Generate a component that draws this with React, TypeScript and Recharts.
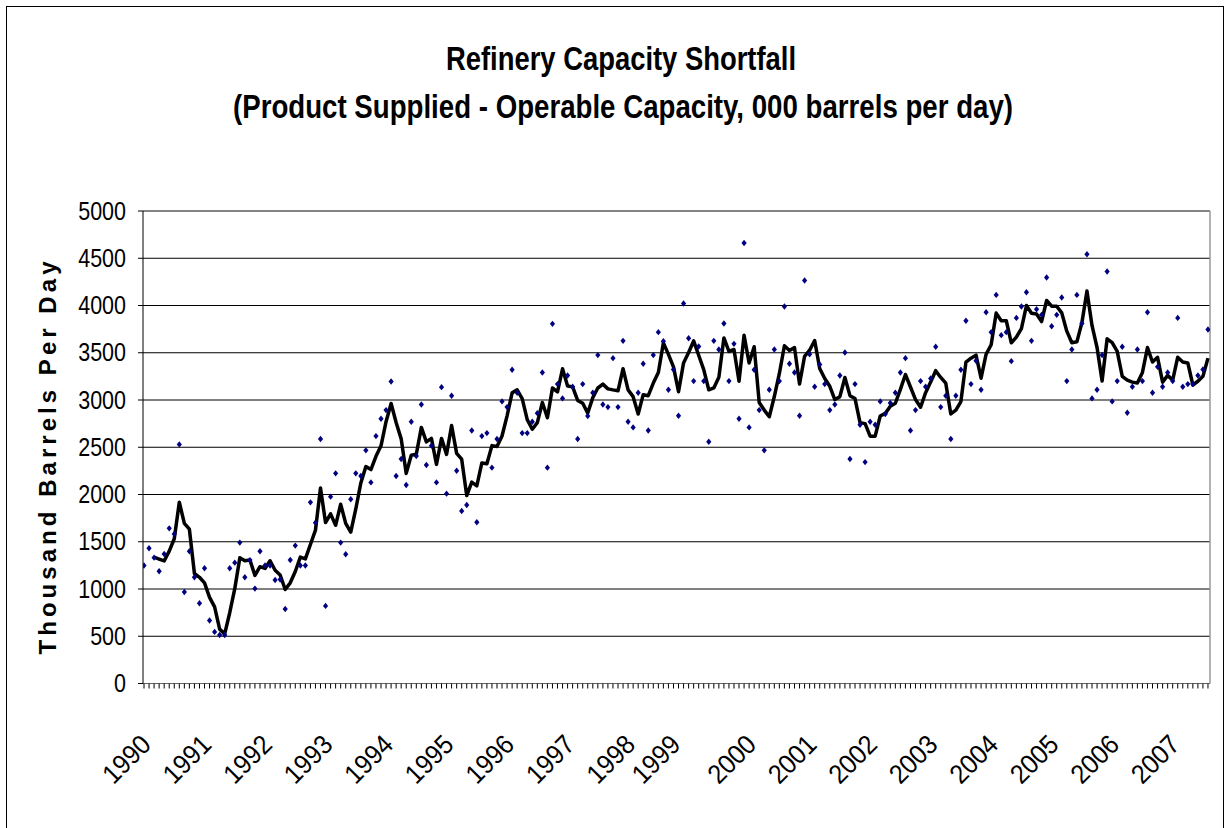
import React from "react";
import {
  CartesianGrid,
  ComposedChart,
  Line,
  ReferenceLine,
  XAxis,
  YAxis,
} from "recharts";

// monthly shortfall, Jan 1990 .. Aug 2007 (000 b/d)
const shortfall = [
  1248, 1431, 1332, 1188, 1371, 1642, 1582, 2530, 969, 1399, 1124, 849,
  1219, 666, 546, 514, 514, 1219, 1279, 1491, 1124, 1306, 1004, 1399,
  1250, 1248, 1096, 1100, 789, 1307, 1459, 1248, 1248, 1917, 1702, 2587,
  821, 1977, 2224, 1491, 1367, 1949, 2224, 2195, 2467, 2128, 2618, 2801,
  2893, 3196, 2195, 2375, 2100, 2770, 2407, 2953, 2312, 2517, 2128, 3136,
  2009, 3045, 2252, 1825, 1889, 2678, 1706, 2618, 2650, 2284, 2587, 2985,
  2925, 3320, 3076, 2650, 2650, 2770, 2861, 3291, 2284, 3806, 3168, 3017,
  3260, 3140, 2587, 3168, 2830, 3076, 3475, 2953, 2925, 3443, 2925, 3626,
  2770, 2710, 3076, 3383, 2678, 3475, 3718, 3622, 3108, 3323, 2833, 4021,
  3654, 3200, 3566, 3200, 2558, 3626, 3535, 3809, 3200, 3594, 2801, 4662,
  2710, 3320, 2893, 2467, 3108, 3535, 3200, 3989, 3383, 3291, 2833, 4264,
  3484, 3140, 3375, 3168, 2893, 2953, 3260, 3503, 2375, 3168, 2738, 2343,
  2770, 2738, 2985, 2851, 2969, 3076, 3291, 3443, 2678, 2893, 3200, 3140,
  3228, 3563, 2925, 3045, 2587, 3045, 3320, 3838, 3168, 3416, 3108, 3929,
  3718, 4112, 3686, 3718, 3411, 3869, 3989, 4141, 3626, 3961, 3901, 4296,
  3781, 3901, 4084, 3200, 3535, 4112, 3809, 4542, 3017, 3108, 3475, 4359,
  2985, 3200, 3563, 2865, 3140, 3535, 3200, 3929, 3076, 3351, 3140, 3291,
  3200, 3869, 3140, 3168, 3168, 3260, 3323, 3746,
];

const years = [
  "1990", "1991", "1992", "1993", "1994", "1995", "1996", "1997", "1998",
  "1999", "2000", "2001", "2002", "2003", "2004", "2005", "2006", "2007",
];
// month index under which each year label sits (1999 sits early on the original)
const yearAt = [
  0, 12, 24, 36, 48, 60, 72, 84, 96, 105, 120, 132, 144, 156, 168, 180, 192, 204,
];

const yTicks = [0, 500, 1000, 1500, 2000, 2500, 3000, 3500, 4000, 4500, 5000];

const TITLE = "Refinery Capacity Shortfall";
const SUBTITLE = "(Product Supplied - Operable Capacity, 000 barrels per day)";
const Y_LABEL = "Thousand Barrels Per Day";

// the black line is the 3-period moving-average trendline of the monthly points
const data = shortfall.map((v, i) => ({
  idx: i,
  month: `${years[Math.floor(i / 12)]}-${String((i % 12) + 1).padStart(2, "0")}`,
  v,
  ma: i >= 2 ? (shortfall[i - 2] + shortfall[i - 1] + v) / 3 : null,
}));

const monthTicks = data.map((d) => d.idx);

const FONT = "'Liberation Sans', Arial, sans-serif";

function Diamond(props: any) {
  const { cx, cy, index } = props;
  if (cx == null || cy == null) return <g key={index} />;
  return (
    <polygon
      key={index}
      points={`${cx},${cy - 3.2} ${cx + 2.6},${cy} ${cx},${cy + 3.2} ${cx - 2.6},${cy}`}
      fill="#000080"
    />
  );
}

function YearTick(props: any) {
  const { x, y, payload } = props;
  const k = yearAt.indexOf(payload.value as number);
  if (k < 0) return <g />;
  const ax = x + 2;
  const ay = y + 49;
  return (
    <g transform={`translate(${ax}, ${ay}) rotate(-45) scale(0.92, 1)`}>
      <text
        x={0}
        y={0}
        textAnchor="end"
        dominantBaseline="central"
        fontSize={27}
        fontFamily={FONT}
        fill="#000"
      >
        {years[k]}
      </text>
    </g>
  );
}

function ValueTick(props: any) {
  const { x, y, payload } = props;
  return (
    <g transform={`translate(${x}, ${y}) scale(0.86, 1)`}>
      <text
        x={0}
        y={0}
        textAnchor="end"
        dominantBaseline="central"
        fontSize={25}
        fontFamily={FONT}
        fill="#000"
      >
        {payload.value}
      </text>
    </g>
  );
}

export default function App() {
  return (
    <div
      style={{
        position: "relative",
        width: 1227,
        height: 828,
        overflow: "hidden",
        background: "#fff",
      }}
    >
      <style>{"body{margin:0;overflow:hidden}"}</style>
      <div
        style={{
          position: "absolute",
          left: 6,
          top: 6,
          width: 1218,
          height: 840,
          border: "1px solid #000",
          boxSizing: "border-box",
        }}
      />
      <div style={{ position: "absolute", left: 0, top: 0 }}>
        <ComposedChart
          width={1227}
          height={828}
          data={data}
          margin={{ top: 211, right: 17, bottom: 44.5, left: 43 }}
        >
          <CartesianGrid
            horizontal
            vertical={false}
            stroke="#000"
            strokeWidth={1}
          />
          <XAxis
            type="number"
            dataKey="idx"
            domain={[-0.2, 211.4]}
            allowDataOverflow
            ticks={monthTicks}
            interval={0}
            tick={<YearTick />}
            tickSize={5}
            tickLine={{ stroke: "#000" }}
            axisLine={{ stroke: "#666" }}
            height={100}
          />
          <YAxis
            type="number"
            domain={[0, 5000]}
            ticks={yTicks}
            interval={0}
            width={100}
            tickSize={5}
            tickMargin={12}
            tick={<ValueTick />}
            tickLine={{ stroke: "#000" }}
            axisLine={{ stroke: "#000" }}
          />
          <ReferenceLine x={211.4} stroke="#999" strokeWidth={1.5} ifOverflow="visible" />
          <ReferenceLine y={5000} stroke="#888" strokeWidth={1} />
          <Line
            dataKey="v"
            stroke="none"
            dot={Diamond}
            activeDot={false}
            isAnimationActive={false}
          />
          <Line
            dataKey="ma"
            stroke="#000"
            strokeWidth={3.5}
            strokeLinejoin="round"
            dot={false}
            activeDot={false}
            isAnimationActive={false}
          />
        </ComposedChart>
      </div>
      <svg
        width={1227}
        height={828}
        style={{ position: "absolute", left: 0, top: 0, pointerEvents: "none" }}
      >
        <text
          x={621}
          y={70}
          textAnchor="middle"
          fontFamily={FONT}
          fontWeight="bold"
          fontSize={33}
          textLength={350}
          lengthAdjust="spacingAndGlyphs"
        >
          {TITLE}
        </text>
        <text
          x={623}
          y={118}
          textAnchor="middle"
          fontFamily={FONT}
          fontWeight="bold"
          fontSize={33}
          textLength={780}
          lengthAdjust="spacingAndGlyphs"
        >
          {SUBTITLE}
        </text>
        <text
          x={0}
          y={0}
          transform="translate(56, 458) rotate(-90)"
          textAnchor="middle"
          fontFamily={FONT}
          fontWeight="bold"
          fontSize={24}
          textLength={393}
          lengthAdjust="spacing"
        >
          {Y_LABEL}
        </text>
      </svg>
    </div>
  );
}
